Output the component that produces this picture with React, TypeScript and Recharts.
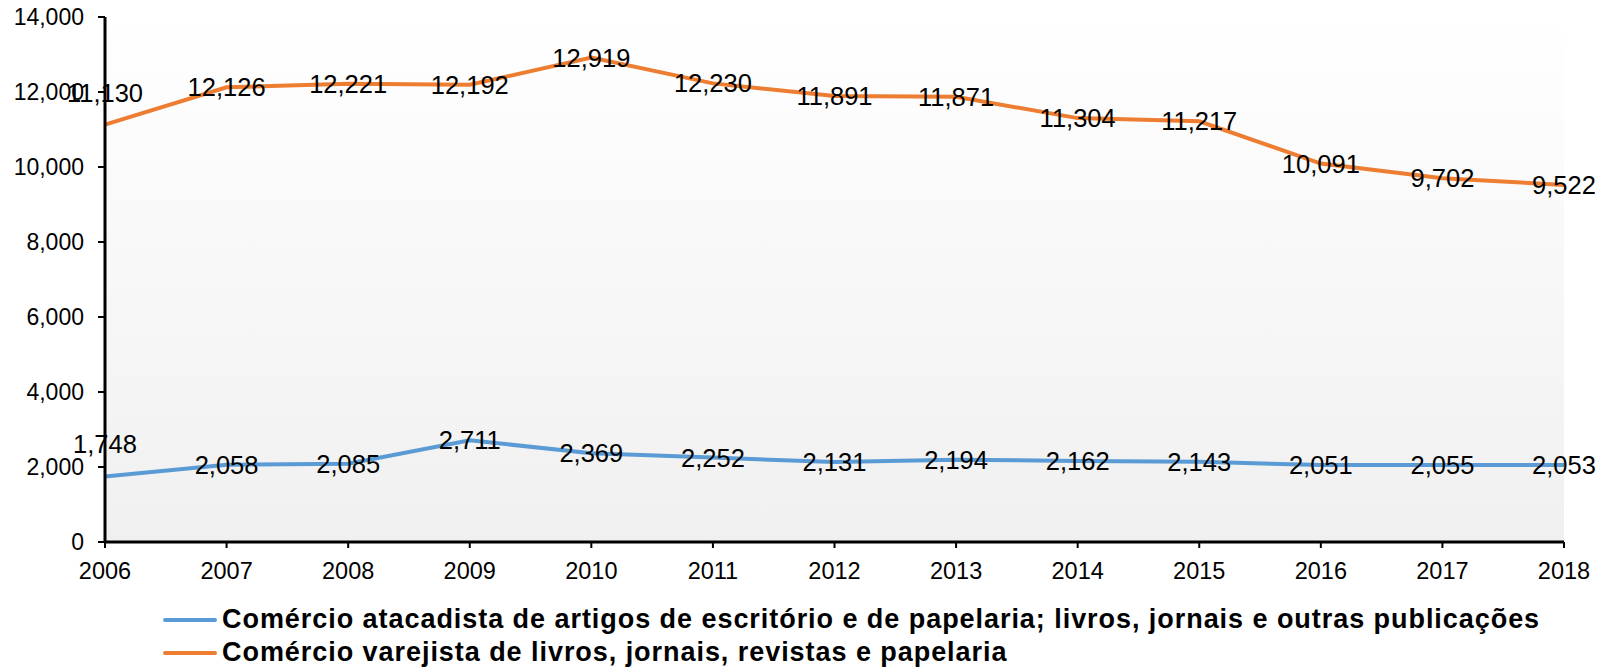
import { LineChart, Line, XAxis, YAxis, CartesianGrid, Legend, LabelList } from "recharts";

const years = ["2006", "2007", "2008", "2009", "2010", "2011", "2012", "2013", "2014", "2015", "2016", "2017", "2018"];
const atacadista = [1748, 2058, 2085, 2711, 2369, 2252, 2131, 2194, 2162, 2143, 2051, 2055, 2053];
const varejista = [11130, 12126, 12221, 12192, 12919, 12230, 11891, 11871, 11304, 11217, 10091, 9702, 9522];
const yTicks = [0, 2000, 4000, 6000, 8000, 10000, 12000, 14000];

const NAME_A = "Comércio atacadista de artigos de escritório e de papelaria; livros, jornais e outras publicações";
const NAME_V = "Comércio varejista de livros, jornais, revistas e papelaria";

const BLUE = "#5B9BD5";
const ORANGE = "#ED7D31";
const FONT = "Arial, 'Liberation Sans', sans-serif";

const data = years.map((year, i) => ({ year, atacadista: atacadista[i], varejista: varejista[i] }));

const fmt = (v: number) => v.toLocaleString("en-US");

const renderLabel = (props: any) => {
  const { x, y, value, index } = props;
  // first point labels sit above the line, the rest are centred on the point
  const dy = index === 0 ? -32 : 0;
  return (
    <text
      x={x}
      y={y + dy}
      textAnchor="middle"
      dominantBaseline="central"
      fontSize={25.5}
      fontFamily={FONT}
      fill="#000"
    >
      {fmt(value)}
    </text>
  );
};

const renderLegend = () => (
  <div style={{ fontFamily: FONT, fontWeight: "bold", fontSize: 27, letterSpacing: 0.95, color: "#000", lineHeight: "33px" }}>
    {[
      { name: NAME_A, color: BLUE },
      { name: NAME_V, color: ORANGE },
    ].map((item) => (
      <div key={item.name} style={{ display: "flex", alignItems: "center", whiteSpace: "nowrap" }}>
        <span style={{ display: "inline-block", width: 54, height: 4, background: item.color, borderRadius: 2, marginRight: 5 }} />
        <span>{item.name}</span>
      </div>
    ))}
  </div>
);

export default function App() {
  return (
    <div style={{ position: "absolute", left: 0, top: 0, width: 1603, height: 672, background: "#fff" }}>
      <LineChart width={1603} height={672} data={data} margin={{ top: 17, right: 39, left: 0, bottom: 24 }}>
        <defs>
          <linearGradient id="plotBg" x1="0" y1="0" x2="0" y2="1">
            <stop offset="0%" stopColor="#ffffff" />
            <stop offset="100%" stopColor="#f0f0f0" />
          </linearGradient>
        </defs>
        <CartesianGrid horizontal={false} vertical={false} fill="url(#plotBg)" />
        <XAxis
          dataKey="year"
          height={40}
          tickSize={6}
          tickMargin={14}
          axisLine={{ stroke: "#000", strokeWidth: 3 }}
          tickLine={{ stroke: "#000", strokeWidth: 2 }}
          tick={{ fontSize: 23.5, fontFamily: FONT, fill: "#000" }}
          interval={0}
        />
        <YAxis
          width={105}
          domain={[0, 14000]}
          ticks={yTicks}
          tickFormatter={fmt}
          tickSize={7}
          tickMargin={14}
          axisLine={{ stroke: "#000", strokeWidth: 3 }}
          tickLine={{ stroke: "#000", strokeWidth: 2 }}
          tick={{ fontSize: 23, fontFamily: FONT, fill: "#000" }}
          interval={0}
        />
        <Legend
          verticalAlign="bottom"
          align="left"
          content={renderLegend}
          height={66}
          wrapperStyle={{ left: 163, top: 603, width: 1430, height: 66 }}
        />
        <Line
          type="linear"
          dataKey="atacadista"
          name={NAME_A}
          stroke={BLUE}
          strokeWidth={4}
          dot={false}
          isAnimationActive={false}
        >
          <LabelList dataKey="atacadista" content={renderLabel} />
        </Line>
        <Line
          type="linear"
          dataKey="varejista"
          name={NAME_V}
          stroke={ORANGE}
          strokeWidth={4}
          dot={false}
          isAnimationActive={false}
        >
          <LabelList dataKey="varejista" content={renderLabel} />
        </Line>
      </LineChart>
    </div>
  );
}
